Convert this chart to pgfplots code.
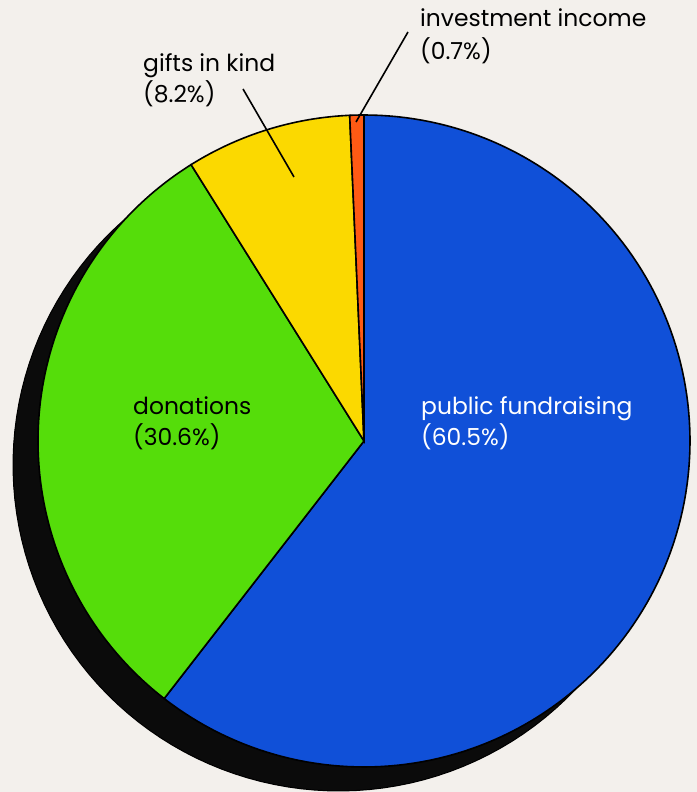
\documentclass[border=0pt]{standalone}
\usepackage{pgfplots}
\pgfplotsset{compat=1.18}
\usepackage{fontspec}
\setmainfont{Poppins}
\definecolor{bg}{HTML}{F3F0EC}
\definecolor{pblue}{HTML}{1050D8}
\definecolor{pgreen}{HTML}{55DD0A}
\definecolor{pyellow}{HTML}{FBD900}
\definecolor{porange}{HTML}{FF5A14}
\definecolor{shadow}{HTML}{0B0B0B}
\begin{document}
\begin{tikzpicture}
% slice values (percent), clockwise from 12 o'clock
\def\vA{60.5}\def\vB{30.6}\def\vC{8.2}\def\vD{0.7}
\def\cx{364}\def\cy{351}\def\R{326}
\pgfmathsetmacro\aA{90-3.6*\vA}
\pgfmathsetmacro\aB{\aA-3.6*\vB}
\pgfmathsetmacro\aC{\aB-3.6*\vC}
\pgfmathsetmacro\aD{\aC-3.6*\vD}
\begin{axis}[x=1bp,y=1bp,xmin=0,xmax=697,ymin=0,ymax=792,hide axis,
  samples=150, variable=\t]
\fill[bg] (axis cs:0,0) rectangle (axis cs:697,792);
% shadow
\addplot[fill=shadow, draw=black, line width=1bp, domain=0:360]
  ({\cx-25+\R*cos(t)},{\cy-24+\R*sin(t)}) -- cycle;
% slices
\addplot[fill=pblue, draw=black, line width=1.6bp, domain=\aA:90]
  ({\cx+\R*cos(t)},{\cy+\R*sin(t)}) -- (axis cs:\cx,\cy) -- cycle;
\addplot[fill=pgreen, draw=black, line width=1.6bp, domain=\aB:\aA]
  ({\cx+\R*cos(t)},{\cy+\R*sin(t)}) -- (axis cs:\cx,\cy) -- cycle;
\addplot[fill=pyellow, draw=black, line width=1.6bp, domain=\aC:\aB]
  ({\cx+\R*cos(t)},{\cy+\R*sin(t)}) -- (axis cs:\cx,\cy) -- cycle;
\addplot[fill=porange, draw=black, line width=1.6bp, domain=\aD:\aC, samples=10]
  ({\cx+\R*cos(t)},{\cy+\R*sin(t)}) -- (axis cs:\cx,\cy) -- cycle;
% leader lines
\addplot[black, line width=1.6bp] coordinates {(408,760) (356,670)};
\addplot[black, line width=1.6bp] coordinates {(243,703) (294,615)};
% labels
\begin{scope}[every node/.style={anchor=base west, inner sep=0pt, font=\fontsize{23.5}{28}\selectfont}]
\node at (axis cs:420,765) {investment income};
\node at (axis cs:420,732) {(0.7\%)};
\node at (axis cs:143,720) {gifts in kind};
\node at (axis cs:143,689) {(8.2\%)};
\node at (axis cs:133,377) {donations};
\node at (axis cs:133,346) {(30.6\%)};
\node[text=white] at (axis cs:421,377) {public fundraising};
\node[text=white] at (axis cs:421,346) {(60.5\%)};
\end{scope}
\end{axis}
\end{tikzpicture}
\end{document}
